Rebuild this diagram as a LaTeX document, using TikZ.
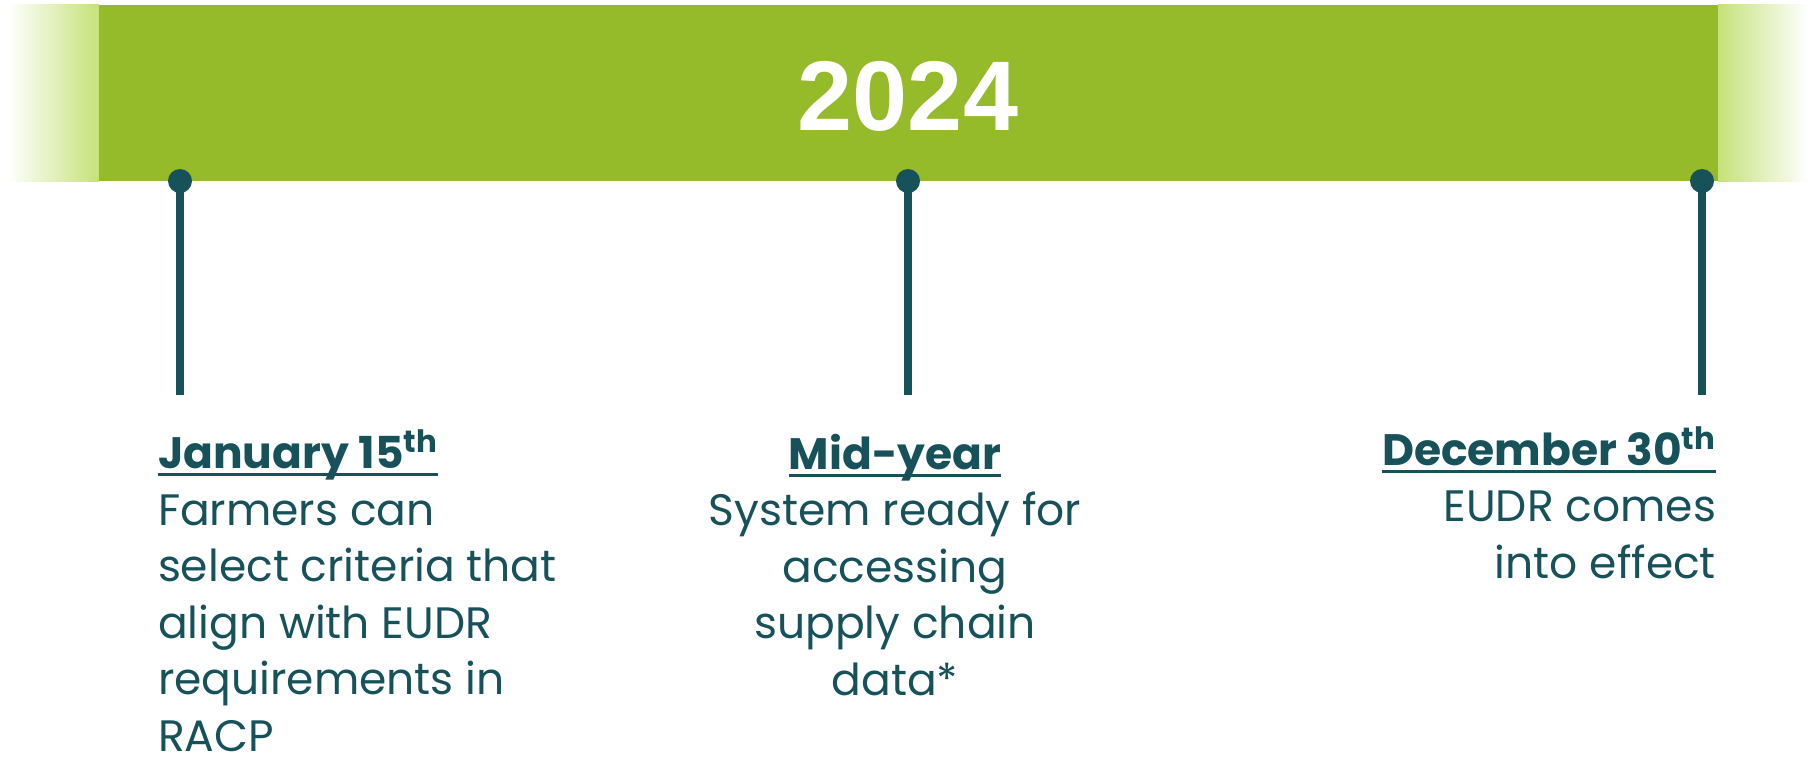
\documentclass[tikz,border=0pt]{standalone}
\usepackage{fontspec}
\setmainfont{Poppins}
\newfontfamily\yearfont{Liberation Sans}
\definecolor{banner}{HTML}{95BA2A}
\definecolor{palegreen}{HTML}{C5E17A}
\definecolor{deepteal}{HTML}{17525B}
\newsavebox\headbox
\newcommand\headline[1]{\sbox\headbox{\bfseries #1}\rlap{\rule[-0.15cm]{\wd\headbox}{0.06cm}}\usebox\headbox}
\begin{document}
\begin{tikzpicture}[inner sep=0pt,outer sep=0pt,
pin/.style={fill=deepteal,circle,minimum size=0.48cm},
stem/.style={draw=deepteal,line width=0.16cm},
event/.style={text=deepteal,font=\fontsize{0.88cm}{1.13cm}\selectfont}]
\useasboundingbox (0,0) rectangle (36.22,15.14);
% banner with faded ends
\shade[left color=white,right color=palegreen] (0.16,11.52) rectangle (1.98,15.04);
\shade[left color=palegreen,right color=white] (34.36,11.52) rectangle (36.16,15.04);
\fill[banner] (1.98,11.52) rectangle (34.36,15.04);
\draw (18.16,12.54) node[anchor=base,text=white,font=\yearfont\bfseries\fontsize{1.98cm}{2.2cm}\selectfont] (year) {2024};
% pins
\coordinate (janend) at (3.6,7.24);
\coordinate (midend) at (18.16,7.24);
\coordinate (decend) at (34.04,7.24);
\draw (3.6,11.52) node[pin] (jan) {};
\draw (18.16,11.52) node[pin] (mid) {};
\draw (34.04,11.52) node[pin] (dec) {};
\draw[stem] (jan.center) -- (janend);
\draw[stem] (mid.center) -- (midend);
\draw[stem] (dec.center) -- (decend);
% events (base = baseline of last line)
\draw (3.16,0.12) node[event,anchor=base west,align=left] (jantext) {\headline{January 15\textsuperscript{th}}\\Farmers can\\select criteria that\\align with EUDR\\requirements in\\RACP};
\draw (17.9,1.24) node[event,anchor=base,align=center] (midtext) {\headline{Mid-year}\\System ready for\\accessing\\supply chain\\data*};
\draw (34.32,3.58) node[event,anchor=base east,align=right] (dectext) {\headline{December 30\textsuperscript{th}}\\EUDR comes\\into effect};
\end{tikzpicture}
\end{document}
